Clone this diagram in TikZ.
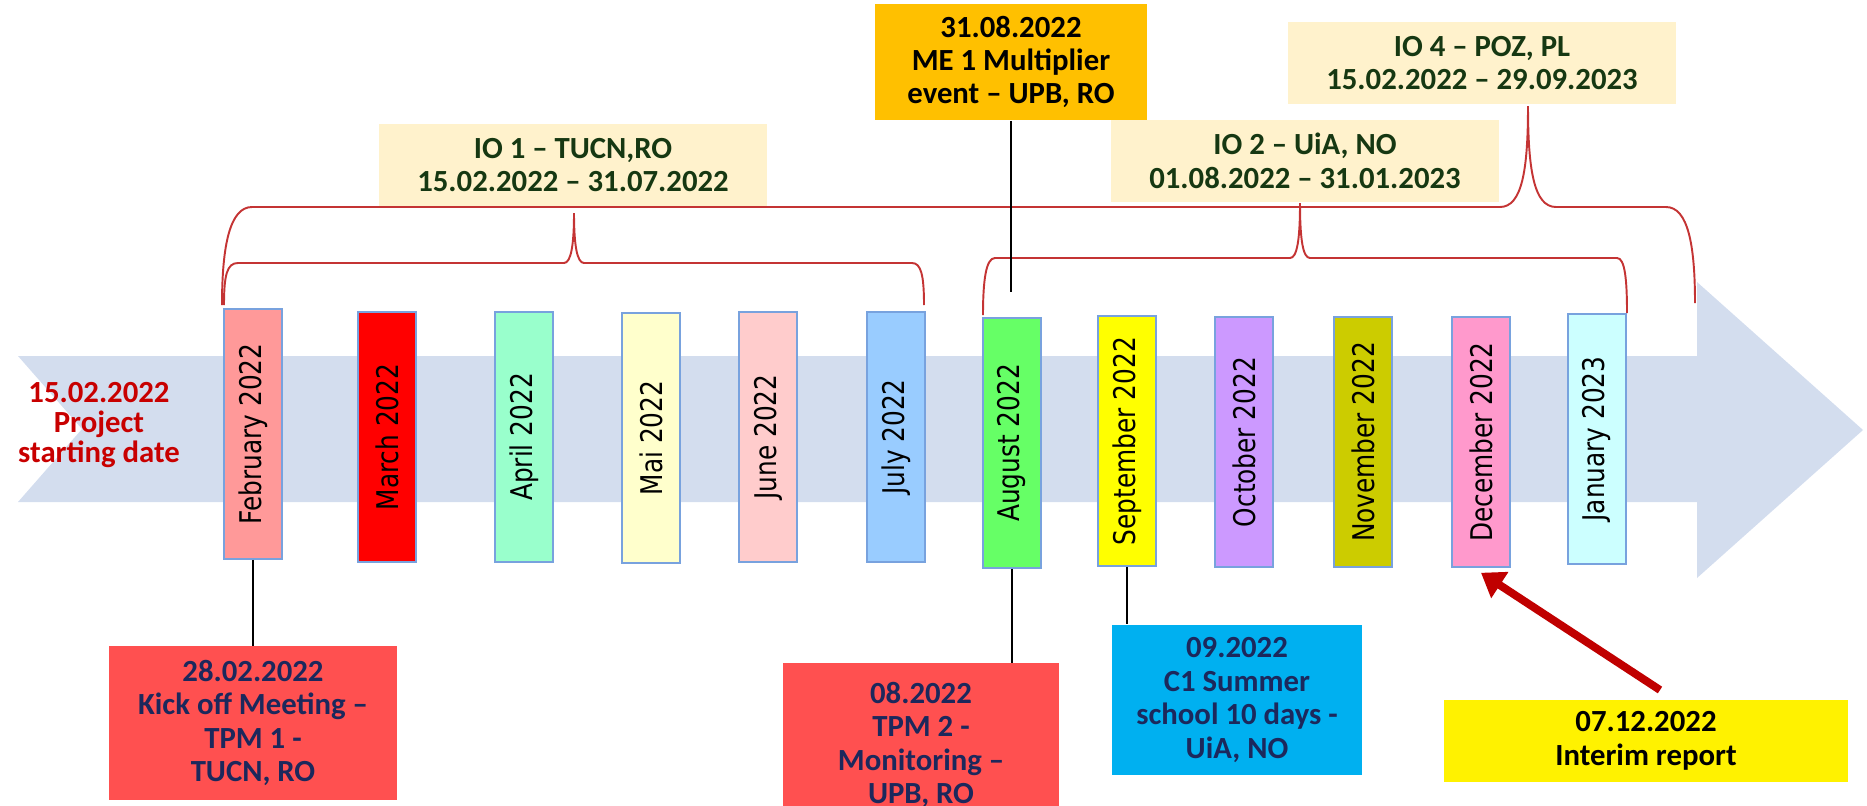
\documentclass[tikz,border=0pt]{standalone}
\usepackage{fontspec}
\usepackage{graphicx}
\setmainfont{Carlito}
\newfontfamily\monthfont{DejaVu Sans}[FakeStretch=0.83]
\usetikzlibrary{arrows.meta,positioning,calc}

\definecolor{timeblue}{RGB}{211,221,238}
\definecolor{boxedge}{RGB}{120,162,222}
\definecolor{bracered}{RGB}{196,52,52}
\definecolor{iocream}{RGB}{255,242,204}
\definecolor{iogreen}{RGB}{22,56,18}
\definecolor{evnavy}{RGB}{28,40,92}
\definecolor{evred}{RGB}{255,80,80}
\definecolor{evblue}{RGB}{0,176,240}
\definecolor{evorange}{RGB}{255,192,0}
\definecolor{startred}{RGB}{200,0,0}
\definecolor{reportred}{RGB}{192,0,0}

\tikzset{
	monthbox/.style={draw=boxedge, line width=0.9pt, minimum width=1.16cm, minimum height=5cm,
		inner sep=0pt, font=\monthfont\fontsize{17}{17}\selectfont},
	iobox/.style={fill=iocream, text=iogreen, align=center, minimum width=7.78cm, minimum height=1.66cm,
		inner sep=0pt, font=\bfseries\fontsize{17.5}{19}\selectfont},
	eventbox/.style={text=evnavy, align=center, inner sep=0pt, font=\bfseries\fontsize{17.5}{19}\selectfont},
	brace/.style={draw=bracered, line width=1.1pt},
	pin/.style={draw=black, line width=0.7pt}
}

\begin{document}
\begin{tikzpicture}[x=0.02cm, y=-0.02cm]
	\useasboundingbox (0,0) rectangle (1867,805);
	
	% time arrow
	\fill[timeblue] (18,356) -- (1697,356) -- (1697,282) -- (1863,430) -- (1697,578)
		-- (1697,502) -- (18,502) -- (82,429) -- cycle;
	
	\node[align=center, text=startred, font=\bfseries\fontsize{17.5}{17}\selectfont] (start) at (99,425)
		{15.02.2022\\Project\\starting date};
	
	% braces
	\draw[brace] (222,305) .. controls (222,245) and (230,207) .. (252,207) -- (1500,207)
		.. controls (1522,207) and (1528,170) .. (1528,106)
		.. controls (1528,170) and (1534,207) .. (1556,207) -- (1666,207)
		.. controls (1688,207) and (1695,245) .. (1695,303);
	\draw[brace] (224,305) .. controls (224,275) and (227,263) .. (238,263) -- (564,263)
		.. controls (571,263) and (574,245) .. (574,213)
		.. controls (574,245) and (577,263) .. (584,263) -- (912,263)
		.. controls (921,263) and (924,275) .. (924,305);
	\draw[brace] (983,315) .. controls (983,280) and (986,258) .. (995,258) -- (1290,258)
		.. controls (1297,258) and (1300,240) .. (1300,203)
		.. controls (1300,240) and (1303,258) .. (1310,258) -- (1617,258)
		.. controls (1625,258) and (1627,280) .. (1627,313);
	
	% months
	\node[monthbox, fill={rgb,255:red,255;green,153;blue,153}] (feb) at (253,434) {\rotatebox{90}{February 2022}};
	\node[monthbox, fill={rgb,255:red,255;green,0;blue,0}] (mar) at (387,437) {\rotatebox{90}{March 2022}};
	\node[monthbox, fill={rgb,255:red,153;green,255;blue,204}] (apr) at (524,437) {\rotatebox{90}{April 2022}};
	\node[monthbox, fill={rgb,255:red,255;green,255;blue,204}] (mai) at (651,438) {\rotatebox{90}{Mai 2022}};
	\node[monthbox, fill={rgb,255:red,255;green,204;blue,204}] (jun) at (768,437) {\rotatebox{90}{June 2022}};
	\node[monthbox, fill={rgb,255:red,153;green,204;blue,255}] (jul) at (896,437) {\rotatebox{90}{July 2022}};
	\node[monthbox, fill={rgb,255:red,102;green,255;blue,102}] (aug) at (1012,443) {\rotatebox{90}{August 2022}};
	\node[monthbox, fill={rgb,255:red,255;green,255;blue,0}] (sep) at (1127,441) {\rotatebox{90}{September 2022}};
	\node[monthbox, fill={rgb,255:red,204;green,153;blue,255}] (oct) at (1244,442) {\rotatebox{90}{October 2022}};
	\node[monthbox, fill={rgb,255:red,204;green,204;blue,0}] (nov) at (1363,442) {\rotatebox{90}{November 2022}};
	\node[monthbox, fill={rgb,255:red,255;green,153;blue,204}] (dec) at (1481,442) {\rotatebox{90}{December 2022}};
	\node[monthbox, fill={rgb,255:red,204;green,255;blue,255}] (jan) at (1597,439) {\rotatebox{90}{January 2023}};
	
	% intellectual outputs
	\node[iobox] (io1) at (573,165) {IO 1 -- TUCN,RO\\15.02.2022 -- 31.07.2022};
	\node[iobox] (io2) at (1305,161) {IO 2 -- UiA, NO\\01.08.2022 -- 31.01.2023};
	\node[iobox] (io4) at (1482,63) {IO 4 -- POZ, PL\\15.02.2022 -- 29.09.2023};
	
	% events
	\node[eventbox, fill=evorange, text=black, minimum width=5.46cm, minimum height=2.34cm] (me) at (1011,62)
		{31.08.2022\\ME 1 Multiplier\\event -- UPB, RO};
	\node[eventbox, fill=evred, minimum width=5.76cm, minimum height=3.08cm] (kick) at (253,723)
		{28.02.2022\\Kick off Meeting --\\TPM 1 -\\TUCN, RO};
	\node[eventbox, fill=evred, minimum width=5.52cm, minimum height=3.28cm] (tpm) at (921,745)
		{08.2022\\TPM 2 -\\Monitoring --\\UPB, RO};
	\node[eventbox, fill=evblue, minimum width=5cm, minimum height=3.02cm] (summer) at (1237,700)
		{09.2022\\C1 Summer\\school 10 days -\\UiA, NO};
	\node[eventbox, fill=yellow, text=black, minimum width=8.1cm, minimum height=1.64cm] (report) at (1646,741)
		{07.12.2022\\Interim report};
	
	% pins
	\coordinate (metip) at (1011,292);
	\coordinate (reptail) at (1660,690);
	\draw[pin] (me.south) -- (me.south |- metip);
	\draw[pin] (feb.south) -- (kick.north);
	\draw[pin] (aug.south) -- (aug.south |- tpm.north);
	\draw[pin] (sep.south) -- (sep.south |- summer.north);
	\draw[draw=reportred, line width=4.5pt, -{Triangle[length=0.45cm, width=0.6cm]}] (reptail) -- ([yshift=-0.1cm]dec.south);
\end{tikzpicture}
\end{document}
